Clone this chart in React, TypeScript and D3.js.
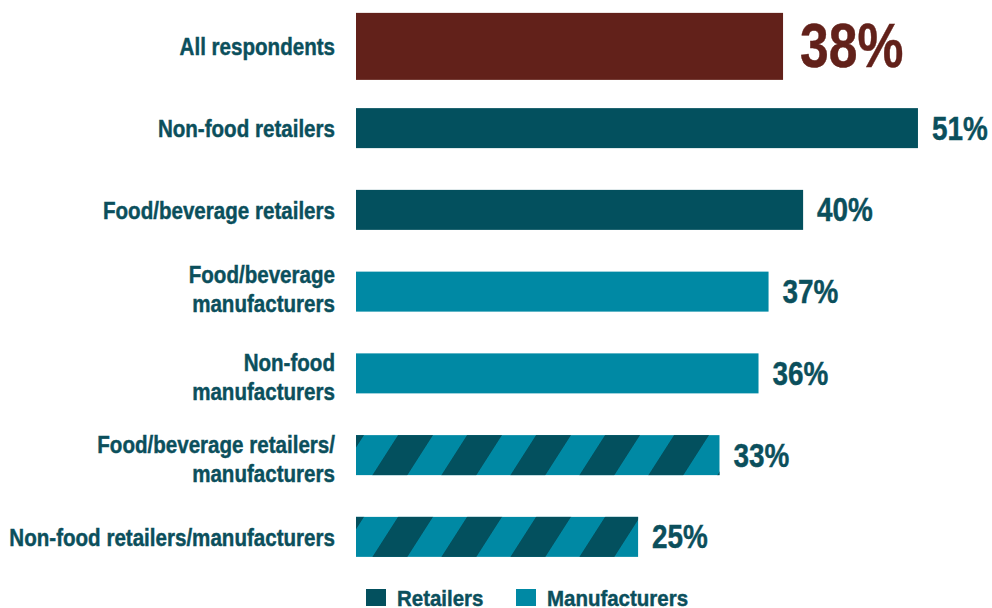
import React from "react";
import * as d3 from "d3";

const categories = [
  "All respondents",
  "Non-food retailers",
  "Food/beverage retailers",
  "Food/beverage\nmanufacturers",
  "Non-food\nmanufacturers",
  "Food/beverage retailers/\nmanufacturers",
  "Non-food retailers/manufacturers",
];
const values = [38.3, 50.4, 40.1, 37.0, 36.1, 32.6, 25.3];
const valueLabels = ["38%", "51%", "40%", "37%", "36%", "33%", "25%"];
const groups = ["All", "Retailers", "Retailers", "Manufacturers", "Manufacturers", "Both", "Both"];
const legendItems = ["Retailers", "Manufacturers"];

const W = 992;
const H = 608;
const FONT = '"Liberation Sans", Arial, sans-serif';
const BROWN = "#62211A";
const DARK = "#03505E";
const LIGHT = "#0089A4";
const TEXT = "#0B4F5C";

function NText(props: {
  x: number;
  y: number;
  size: number;
  fill: string;
  sx?: number;
  anchor?: string;
  children: React.ReactNode;
}) {
  return (
    <text
      transform={`translate(${props.x},${props.y}) scale(${props.sx ?? 0.84},1)`}
      textAnchor={props.anchor || "start"}
      fontFamily={FONT}
      fontWeight="bold"
      fontSize={props.size}
      fill={props.fill}
      stroke={props.fill}
      strokeWidth={0.45}
    >
      {props.children}
    </text>
  );
}

export default function App() {
  const x = d3.scaleLinear().domain([0, 50]).range([356, 913.5]);
  const y = d3.scaleBand<string>().domain(categories).range([5.5, 5.5 + 7 * 81.75]).padding(0);
  const color = d3
    .scaleOrdinal<string, string>()
    .domain(["All", "Retailers", "Manufacturers", "Both"])
    .range([BROWN, DARK, LIGHT, LIGHT]);
  const legendColor = d3.scaleOrdinal<string, string>().domain(legendItems).range([DARK, LIGHT]);
  const legendX = d3.scaleOrdinal<string, number>().domain(legendItems).range([366, 516]);

  const skew = (-Math.atan(25.6 / 40) * 180) / Math.PI;

  return (
    <svg width={W} height={H} style={{ position: "absolute", left: 0, top: 0, background: "#fff" }}>
      <defs>
        {categories.map((c, i) => {
          if (groups[i] !== "Both") return null;
          const cy = (y(c) as number) + y.bandwidth() / 2;
          const top = cy - 20;
          return (
            <pattern
              key={c}
              id={`hatch-${i}`}
              patternUnits="userSpaceOnUse"
              width={69}
              height={400}
              patternTransform={`translate(${x(0) + 42}, ${top}) skewX(${skew})`}
            >
              <rect x={0} y={0} width={35} height={400} fill={DARK} />
            </pattern>
          );
        })}
      </defs>
      {categories.map((c, i) => {
        const cy = (y(c) as number) + y.bandwidth() / 2;
        const isAll = groups[i] === "All";
        const h = isAll ? 67 : 40;
        const top = cy - h / 2;
        const lines = c.split("\n");
        const lineYs = lines.length === 1 ? [cy + 9] : i === 3 ? [cy - 9, cy + 20.3] : [cy - 2.5, cy + 26.8];
        return (
          <g key={c}>
            <rect x={x(0)} y={top} width={x(values[i]) - x(0)} height={h} fill={color(groups[i])} />
            {groups[i] === "Both" && (
              <rect x={x(0)} y={top} width={x(values[i]) - x(0)} height={h} fill={`url(#hatch-${i})`} />
            )}
            {lines.map((ln, j) => (
              <NText key={j} x={335} y={lineYs[j]} anchor="end" size={24.5} fill={TEXT}>
                {ln}
              </NText>
            ))}
            <NText
              x={x(values[i]) + (isAll ? 17 : 14)}
              y={cy + (isAll ? 20.3 : 11.5)}
              size={isAll ? 63 : 34}
              sx={0.82}
              fill={isAll ? BROWN : TEXT}
            >
              {valueLabels[i]}
            </NText>
          </g>
        );
      })}
      {legendItems.map((l) => (
        <g key={l}>
          <rect x={legendX(l)} y={589} width={20} height={17} fill={legendColor(l)} />
          <NText x={legendX(l) + 31} y={605.5} size={22.5} sx={0.91} fill={TEXT}>
            {l}
          </NText>
        </g>
      ))}
    </svg>
  );
}
